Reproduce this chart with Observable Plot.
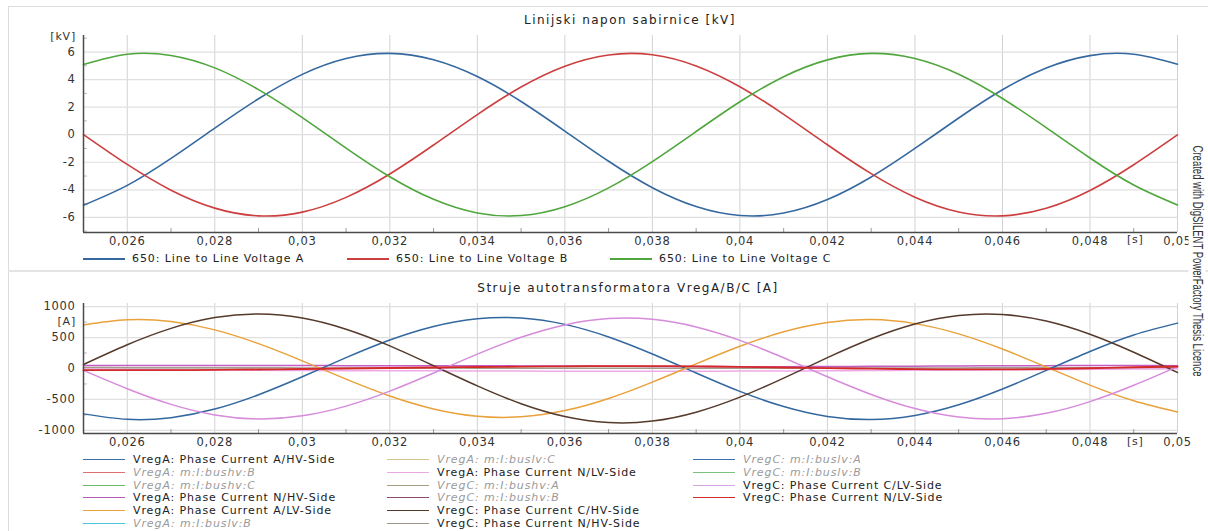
<!DOCTYPE html>
<html>
<head>
<meta charset="utf-8">
<script src="https://cdn.jsdelivr.net/npm/d3@7"></script>
<script src="https://cdn.jsdelivr.net/npm/@observablehq/plot@0.6"></script>
<style>
  body { margin: 0; background: #fff; }
  #root { position: relative; width: 1208px; height: 531px; overflow: hidden; font-family: "DejaVu Sans", sans-serif; background: #fff; }
  .abs { position: absolute; }
  .title { font-size: 12px; letter-spacing: 1.5px; color: #222; white-space: nowrap; transform: translateX(-50%); line-height: 14px; }
  .lg { position: absolute; font-size: 11px; letter-spacing: 0.9px; line-height: 13px; white-space: nowrap; color: #222; }
  .lg.na { font-style: italic; color: #9a9a9a; }
  .sw { position: absolute; width: 42px; height: 2px; }
  .unit { font-size: 11px; letter-spacing: 0.8px; color: #333; white-space: nowrap; line-height: 13px; }
  svg { position: absolute; left: 0; }
</style>
</head>
<body>
<div id="root"></div>
<script>
// ---------- data ----------
const time = [0.025,0.026,0.027,0.028,0.029,0.030,0.031,0.032,0.033,0.034,0.035,0.036,0.037,
              0.038,0.039,0.040,0.041,0.042,0.043,0.044,0.045,0.046,0.047,0.048,0.049,0.050];

// top chart: line-to-line voltages [kV]
const voltA = [-5.12,-3.68,-1.72,0.48,2.61,4.38,5.53,5.90,5.44,4.22,2.41,0.26,-1.93,-3.85,-5.22,-5.87,-5.69,-4.71,-3.07,-1.00,1.21,3.26,4.84,5.74,5.84,5.12];
const voltB = [0.01,-2.16,-4.03,-5.33,-5.89,-5.62,-4.55,-2.85,-0.75,1.46,3.46,4.97,5.79,5.80,4.99,3.48,1.48,-0.73,-2.83,-4.54,-5.61,-5.89,-5.34,-4.05,-2.18,-0.01];
const voltC = [5.10,5.84,5.75,4.85,3.27,1.24,-0.97,-3.05,-4.69,-5.68,-5.87,-5.23,-3.86,-1.95,0.23,2.39,4.21,5.43,5.90,5.53,4.39,2.63,0.51,-1.69,-3.65,-5.10];
const voltNames = ["650: Line to Line Voltage A", "650: Line to Line Voltage B", "650: Line to Line Voltage C"];

// bottom chart: transformer currents [A]
const curAHV  = [-733,-821,-794,-655,-424,-134,175,460,679,804,816,713,510,235,-72,-370,-615,-775,-825,-759,-587,-332,-31,275,542,733];
const curALV  = [704,787,759,624,402,124,-172,-444,-653,-771,-780,-680,-484,-220,74,359,593,743,790,725,559,314,25,-268,-522,-704];
const curCHV  = [65,384,648,822,880,814,634,366,45,-281,-569,-776,-874,-850,-706,-463,-155,175,480,718,855,872,766,553,262,-65];
const curCLV  = [-31,-328,-580,-750,-815,-765,-608,-365,-72,232,504,704,806,794,671,454,173,-133,-419,-647,-784,-811,-724,-535,-271,31];
const curANHV = [48,48,48,48,47,47,46,46,45,44,42,40,37,34,31,30,30,32,35,38,42,45,46,47,47,46];
const curANLV = [-10,-15,-20,-25,-30,-33,-35,-37,-38,-40,-42,-44,-45,-45,-44,-42,-40,-37,-34,-30,-26,-22,-18,-14,-10,-6];
const curCNHV = [15,14,13,12,11,10,9,8,7,6,6,5,5,5,5,6,6,7,8,9,10,11,12,13,14,15];
const curCNLV = [-27,-27,-26,-22,-16,-8,0,8,16,24,30,35,38,38,34,26,16,6,-3,-10,-14,-14,-8,4,20,32];

const curNames = [
  "VregA: Phase Current A/HV-Side", "VregA: m:I:bushv:B", "VregA: m:I:bushv:C",
  "VregA: Phase Current N/HV-Side", "VregA: Phase Current A/LV-Side", "VregA: m:I:buslv:B",
  "VregA: m:I:buslv:C", "VregA: Phase Current N/LV-Side", "VregC: m:I:bushv:A",
  "VregC: m:I:bushv:B", "VregC: Phase Current C/HV-Side", "VregC: Phase Current N/HV-Side",
  "VregC: m:I:buslv:A", "VregC: m:I:buslv:B", "VregC: Phase Current C/LV-Side", "VregC: Phase Current N/LV-Side"
];
const curAvailable = [true,false,false,true,true,false,false,true,false,false,true,true,false,false,true,true];

// axes
const xTicks = [0.026,0.028,0.030,0.032,0.034,0.036,0.038,0.040,0.042,0.044,0.046,0.048,0.050];
const xMinor = [0.027,0.029,0.031,0.033,0.035,0.037,0.039,0.041,0.043,0.045,0.047,0.049];
const vTicks = [-6,-4,-2,0,2,4,6];
const vMinor = [-7,-5,-3,-1,1,3,5,7];
const iTicks = [-1000,-500,0,500,1000];
const iMinor = [-750,-250,250,750];
const titles = ["Linijski napon sabirnice [kV]", "Struje autotransformatora VregA/B/C [A]"];
const watermark = "Created with DigSILENT PowerFactory Thesis Licence";

// ---------- styles (separate from data) ----------
const voltColors = ["#35689f", "#cc3f3f", "#4fa63c"];
const curLegendColors = ["#3a6ea8","#e07070","#6cb86c","#b45cb4","#e9a23b","#4cc6d6",
                         "#d8c58a","#eaa8e6","#a79e82","#8a4a70","#553a2b","#9c9684",
                         "#3a72b0","#7cc27c","#d6a6e2","#d22c2c"];
const curLineColors = {AHV:"#33679f", ALV:"#e9a23b", CHV:"#553a2b", CLV:"#d68bdb",
                       ANHV:"#c45cc4", ANLV:"#eeaae8", CNHV:"#a39c88", CNLV:"#d42a2a"};

const fmt = d => String(+d.toFixed(3)).replace(".", ",");
const yfmt = d => String(d);
const root = document.getElementById("root");

function el(tag, cls, css, text) {
  const e = document.createElement(tag);
  if (cls) e.className = cls;
  Object.assign(e.style, css || {});
  if (text != null) e.textContent = text;
  root.appendChild(e);
  return e;
}

// frame
el("div", "abs", {left: "8px", top: "6px", width: "1200px", height: "0", borderTop: "1px solid #dcdcdc"});
el("div", "abs", {left: "8px", top: "6px", width: "0", height: "525px", borderLeft: "1px solid #dcdcdc"});
el("div", "abs", {left: "8px", top: "270px", width: "1200px", height: "2px", background: "#e4e4e4"});

function chart({height, top, marginTop, yDomain, yTicks, yMinor, series}) {
  const svg = Plot.plot({
    width: 1208, height, marginLeft: 83, marginRight: 31, marginTop, marginBottom: 18,
    x: {domain: [0.025, 0.05]},
    y: {domain: yDomain},
    style: {fontFamily: "DejaVu Sans", fontSize: "11.5px", letterSpacing: "0.7px", color: "#333", background: "transparent", overflow: "visible"},
    marks: [
      Plot.gridX(xTicks, {stroke: "#d2d2d2", strokeOpacity: 1}),
      Plot.gridY(yTicks, {stroke: "#e0e0e0", strokeOpacity: 1, strokeWidth: 1.2}),
      Plot.axisX(xMinor, {tickSize: 4, dy: -4, tickFormat: () => "", stroke: "#999"}),
      Plot.axisY(yMinor, {tickSize: 4, dx: 4, tickFormat: () => "", stroke: "#bbb"}),
      ...series.map(s => Plot.line(s.values, {x: time, y: s.values, stroke: s.color, strokeWidth: s.width || 1.5, curve: "natural"})),
      Plot.axisX(xTicks, {tickSize: 0, tickPadding: 4, tickFormat: fmt, label: null, fill: "#333"}),
      Plot.axisY(yTicks, {tickSize: 0, tickPadding: 8, tickFormat: yfmt, label: null, fill: "#333"}),
      Plot.ruleX([0.025], {stroke: "#4a4a4a", strokeWidth: 1.5}),
      Plot.ruleY([yDomain[0]], {stroke: "#4a4a4a", strokeWidth: 1.5})
    ]
  });
  svg.style.top = top + "px";
  root.appendChild(svg);
  return svg;
}

// top chart
chart({
  height: 250, top: 0, marginTop: 35, yDomain: [-7.1, 7.2], yTicks: vTicks, yMinor: vMinor,
  series: [
    {values: voltA, color: voltColors[0], width: 1.6},
    {values: voltB, color: voltColors[1], width: 1.6},
    {values: voltC, color: voltColors[2], width: 1.6}
  ]
});

// bottom chart
chart({
  height: 171, top: 280, marginTop: 23, yDomain: [-1050, 1050], yTicks: iTicks, yMinor: iMinor,
  series: [
    {values: curCNHV, color: curLineColors.CNHV},
    {values: curANLV, color: curLineColors.ANLV},
    {values: curANHV, color: curLineColors.ANHV},
    {values: curAHV, color: curLineColors.AHV},
    {values: curALV, color: curLineColors.ALV},
    {values: curCHV, color: curLineColors.CHV},
    {values: curCLV, color: curLineColors.CLV},
    {values: curCNLV, color: curLineColors.CNLV, width: 1.8}
  ]
});

// titles
el("div", "abs title", {left: "630px", top: "13px"}, titles[0]);
el("div", "abs title", {left: "628px", top: "281px"}, titles[1]);

// units
el("div", "abs unit", {right: (1208 - 76) + "px", top: "30px"}, "[kV]");
el("div", "abs unit", {right: (1208 - 76) + "px", top: "315px"}, "[A]");
el("div", "abs unit", {left: "1127px", top: "233px"}, "[s]");
el("div", "abs unit", {left: "1127px", top: "435px"}, "[s]");

// top legend
const topLegendX = [83, 347, 610];
voltNames.forEach((name, i) => {
  el("div", "sw", {left: topLegendX[i] + "px", top: "258px", background: voltColors[i]});
  el("div", "lg", {left: (topLegendX[i] + 49) + "px", top: "252px"}, name);
});

// bottom legend
const colX = [83, 387, 693];
curNames.forEach((name, i) => {
  const c = Math.floor(i / 6), r = i % 6;
  const cy = Math.round(460 + r * 12.8);
  el("div", "sw", {left: colX[c] + "px", top: (cy - 1) + "px", height: "1px", background: curLegendColors[i]});
  el("div", "lg" + (curAvailable[i] ? "" : " na"), {left: (colX[c] + 50) + "px", top: (cy - 7) + "px"}, name);
});

// watermark (vertical)
el("div", "abs", {
  left: "1197px", top: "261px", fontFamily: "'Liberation Sans', Arial, sans-serif", fontSize: "14px",
  color: "#333", whiteSpace: "nowrap", background: "#fff", padding: "1px 3px", lineHeight: "15px",
  transform: "translate(-50%, -50%) rotate(90deg) scaleX(0.68)"
}, watermark);
</script>
</body>
</html>
